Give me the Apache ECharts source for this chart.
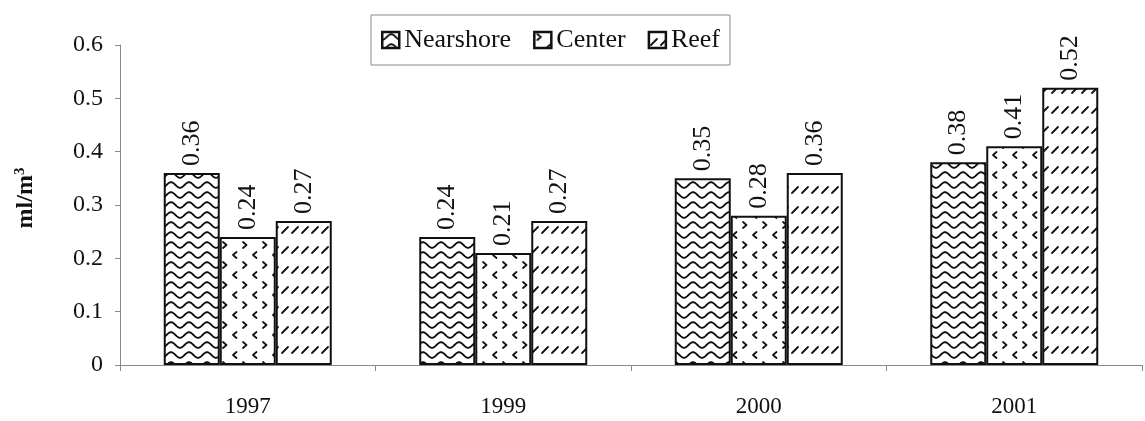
<!DOCTYPE html>
<html>
<head>
<meta charset="utf-8">
<script src="https://cdn.jsdelivr.net/npm/echarts@6/dist/echarts.min.js"></script>
<style>
  html, body { margin: 0; padding: 0; background: #ffffff; }
  #chart { width: 1145px; height: 421px; }
</style>
</head>
<body>
<div id="chart"></div>
<script>
// Zooplankton biomass by sampling year and station
const years = ['1997', '1999', '2000', '2001'];
const nearshore = [0.36, 0.24, 0.35, 0.38];
const center = [0.24, 0.21, 0.28, 0.41];
const reef = [0.27, 0.27, 0.36, 0.52];
const seriesNames = ['Nearshore', 'Center', 'Reef'];
const yTicks = [0, 0.1, 0.2, 0.3, 0.4, 0.5, 0.6];

const FONT = '"Liberation Serif", "Times New Roman", serif';

// Hatch fills drawn on small tiles and repeated over each bar
function makeTile(w, h, draw) {
  const c = document.createElement('canvas');
  c.width = w; c.height = h;
  const ctx = c.getContext('2d');
  ctx.fillStyle = '#ffffff';
  ctx.fillRect(0, 0, w, h);
  ctx.strokeStyle = '#111111';
  ctx.lineCap = 'round';
  ctx.lineJoin = 'round';
  draw(ctx, w, h);
  return c;
}

// wavy horizontal lines
const waveTile = makeTile(18, 10, (ctx, w) => {
  ctx.lineWidth = 1.8;
  ctx.beginPath();
  for (let x = -1; x <= w + 1; x += 0.5) {
    const y = 5 + 2.8 * Math.cos((x / w) * Math.PI * 2);
    if (x === -1) ctx.moveTo(x, y); else ctx.lineTo(x, y);
  }
  ctx.stroke();
});

// scattered chevrons
const chevronTile = makeTile(20, 20, (ctx) => {
  ctx.lineWidth = 1.8;
  const right = (x, y) => { ctx.beginPath(); ctx.moveTo(x, y); ctx.lineTo(x + 3.5, y + 3); ctx.lineTo(x, y + 6); ctx.stroke(); };
  const left = (x, y) => { ctx.beginPath(); ctx.moveTo(x + 3.5, y); ctx.lineTo(x, y + 3); ctx.lineTo(x + 3.5, y + 6); ctx.stroke(); };
  right(3, 2);
  left(13, 12);
});

// short diagonal dashes
const dashTile = makeTile(10, 20, (ctx) => {
  ctx.lineWidth = 1.8;
  ctx.beginPath(); ctx.moveTo(2, 13); ctx.lineTo(8, 7); ctx.stroke();
});

const fills = [waveTile, chevronTile, dashTile];
const dataSets = [nearshore, center, reef];

const series = seriesNames.map((name, i) => ({
  name: name,
  type: 'bar',
  data: dataSets[i],
  barWidth: 56,
  barGap: '0%',
  itemStyle: {
    color: { image: fills[i], repeat: 'repeat' },
    borderColor: '#111111',
    borderWidth: 2
  },
  label: {
    show: true,
    position: 'top',
    rotate: 90,
    align: 'left',
    verticalAlign: 'middle',
    distance: 7,
    fontFamily: FONT,
    fontSize: 26,
    color: '#111111',
    formatter: (p) => p.value.toFixed(2)
  }
}));

const chart = echarts.init(document.getElementById('chart'), null, { renderer: 'canvas' });
chart.setOption({
  backgroundColor: '#ffffff',
  animation: false,
  textStyle: { fontFamily: FONT },
  grid: { left: 120, right: 3, top: 45, bottom: 56, containLabel: false },
  legend: {
    data: seriesNames,
    left: 371,
    top: 15,
    itemWidth: 17,
    itemHeight: 16,
    itemGap: 22,
    padding: [12, 10, 12, 10],
    borderColor: '#8a8a8a',
    borderWidth: 1,
    textStyle: { fontFamily: FONT, fontSize: 26, color: '#111111', padding: [0, 0, 0, 0] },
    icon: 'rect',
    itemStyle: { borderColor: '#111111', borderWidth: 2.5 }
  },
  xAxis: {
    type: 'category',
    data: years,
    axisLine: { lineStyle: { color: '#8a8a8a', width: 1 } },
    axisTick: { show: true, length: 6, lineStyle: { color: '#8a8a8a' } },
    axisLabel: { fontFamily: FONT, fontSize: 23, color: '#111111', margin: 30 }
  },
  yAxis: {
    type: 'value',
    min: yTicks[0],
    max: yTicks[yTicks.length - 1],
    interval: 0.1,
    name: '{b|ml/m}{s|3}',
    nameLocation: 'middle',
    nameGap: 82,
    nameRotate: 90,
    nameTextStyle: {
      color: '#111111',
      padding: [0, 0, 0, 14],
      rich: {
        b: { fontFamily: FONT, fontSize: 24, fontWeight: 'bold', color: '#111111' },
        s: { fontFamily: FONT, fontSize: 15, fontWeight: 'bold', color: '#111111', verticalAlign: 'top', padding: [0, 0, 10, 0] }
      }
    },
    axisLine: { show: true, lineStyle: { color: '#8a8a8a', width: 1 } },
    axisTick: { show: true, length: 5, lineStyle: { color: '#8a8a8a' } },
    splitLine: { show: false },
    axisLabel: {
      fontFamily: FONT, fontSize: 24, color: '#111111', margin: 17,
      formatter: (v) => (Math.round(v * 10) / 10).toString()
    }
  },
  series: series
});
</script>
</body>
</html>
